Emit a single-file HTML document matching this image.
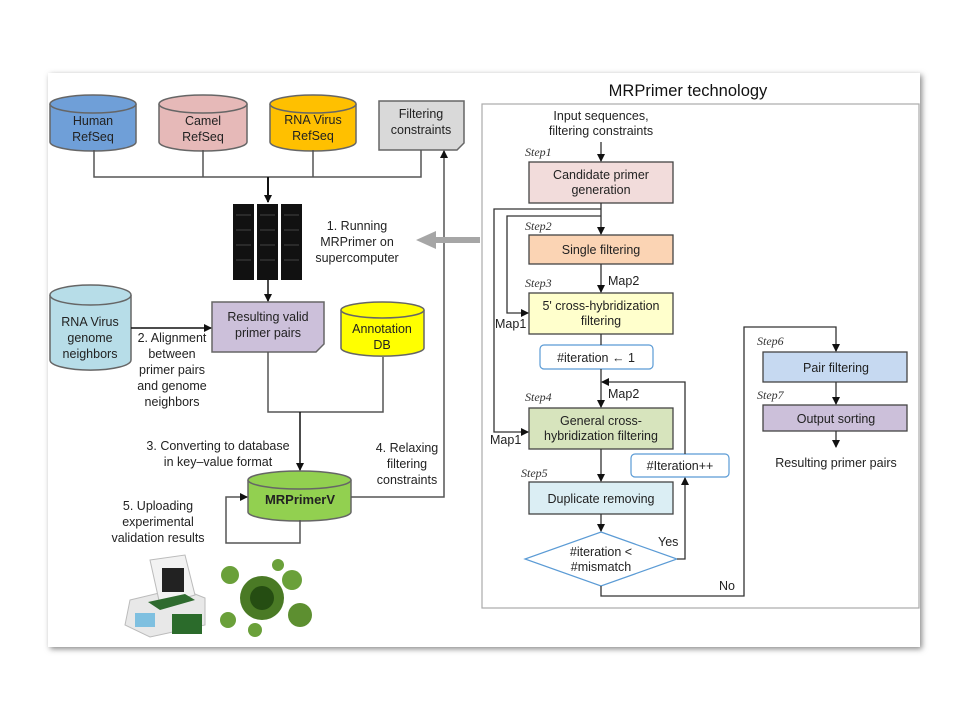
<!DOCTYPE html>
<html><head><meta charset="utf-8"><style>
html,body{margin:0;padding:0;background:#fff}
svg{display:block}
text{font-family:"Liberation Sans",sans-serif;font-size:12.5px;fill:#222}
.st{font-family:"Liberation Serif",serif;font-style:italic;font-size:12px;fill:#333}
</style></head><body>
<svg width="960" height="720" viewBox="0 0 960 720" xmlns="http://www.w3.org/2000/svg">
<defs>
<marker id="a" markerWidth="8" markerHeight="8" refX="7" refY="4" orient="auto" markerUnits="userSpaceOnUse"><path d="M0,0 L8,4 L0,8 z" fill="#111"/></marker>
<filter id="sh" x="-5%" y="-5%" width="110%" height="110%"><feDropShadow dx="2" dy="2" stdDeviation="3" flood-color="#888"/></filter>
</defs>
<rect x="48" y="73" width="872" height="574" fill="#fff" filter="url(#sh)"/>

<!-- left cylinders -->
<g stroke="#666" stroke-width="1.5">
<path d="M50,104 v38 a43,9 0 0 0 86,0 v-38" fill="#6f9fd8"/><ellipse cx="93" cy="104" rx="43" ry="9" fill="#6f9fd8"/>
<path d="M159,104 v38 a44,9 0 0 0 88,0 v-38" fill="#e6b9b8"/><ellipse cx="203" cy="104" rx="44" ry="9" fill="#e6b9b8"/>
<path d="M270,104 v38 a43,9 0 0 0 86,0 v-38" fill="#ffc000"/><ellipse cx="313" cy="104" rx="43" ry="9" fill="#ffc000"/>
<path d="M379,101 h85 v42 l-7,7 h-78 z" fill="#d9d9d9"/>
<path d="M50,295 v65 a40,10 0 0 0 81,0 v-65" fill="#b7dde8"/><ellipse cx="90.5" cy="295" rx="40.5" ry="10" fill="#b7dde8"/>
<path d="M212,302 h112 v42 l-8,8 h-104 z" fill="#ccc0da"/>
<path d="M341,310 v38 a41,8 0 0 0 83,0 v-38" fill="#ffff00"/><ellipse cx="382.5" cy="310" rx="41.5" ry="8" fill="#ffff00"/>
<path d="M248,480 v32 a51.5,9 0 0 0 103,0 v-32" fill="#92d050"/><ellipse cx="299.5" cy="480" rx="51.5" ry="9" fill="#92d050"/>
</g>
<g text-anchor="middle">
<text x="93" y="125">Human</text><text x="93" y="141">RefSeq</text>
<text x="203" y="125">Camel</text><text x="203" y="141">RefSeq</text>
<text x="313" y="124">RNA Virus</text><text x="313" y="140">RefSeq</text>
<text x="421" y="118">Filtering</text><text x="421" y="134">constraints</text>
<text x="90" y="326">RNA Virus</text><text x="90" y="342">genome</text><text x="90" y="358">neighbors</text>
<text x="268" y="321">Resulting valid</text><text x="268" y="337">primer pairs</text>
<text x="382" y="333">Annotation</text><text x="382" y="349">DB</text>
<text x="300" y="504" style="font-weight:bold;font-size:13px">MRPrimerV</text>
<text x="357" y="230">1. Running</text><text x="357" y="246">MRPrimer on</text><text x="357" y="262">supercomputer</text>
<text x="172" y="342">2. Alignment</text><text x="172" y="358">between</text><text x="172" y="374">primer pairs</text><text x="172" y="390">and genome</text><text x="172" y="406">neighbors</text>
<text x="218" y="450">3. Converting to database</text><text x="218" y="466">in key–value  format</text>
<text x="407" y="452">4. Relaxing</text><text x="407" y="468">filtering</text><text x="407" y="484">constraints</text>
<text x="158" y="510">5. Uploading</text><text x="158" y="526">experimental</text><text x="158" y="542">validation  results</text>
</g>
<g stroke="#555" stroke-width="1.5" fill="none">
<path d="M94,150 V177 H421 V150"/><path d="M203,150 V177 M313,150 V177"/>
<path d="M268,177 V202" stroke="#111" stroke-width="2" marker-end="url(#a)"/>
<path d="M268,280 V301" stroke="#111" marker-end="url(#a)"/>
<path d="M131,328 H211" stroke="#111" marker-end="url(#a)"/>
<path d="M268,352 V412 H383 V357"/>
<path d="M300,412 V470" stroke="#111" marker-end="url(#a)"/>
<path d="M351,497 H444 V151" marker-end="url(#a)"/>
<path d="M300,520 V543 H226 V497 H247" marker-end="url(#a)"/>
</g>
<!-- server -->
<g>
<rect x="233" y="204" width="21" height="76" fill="#111"/><rect x="257" y="204" width="21" height="76" fill="#111"/><rect x="281" y="204" width="21" height="76" fill="#111"/>
<g stroke="#444" stroke-width="1"><path d="M236,215 h15 M236,230 h15 M236,245 h15 M236,260 h15 M260,215 h15 M260,230 h15 M260,245 h15 M260,260 h15 M284,215 h15 M284,230 h15 M284,245 h15 M284,260 h15"/></g>
</g>
<!-- grey arrow -->
<path d="M480,237 H436 V231 L416,240 L436,249 V243 H480 z" fill="#a6a6a6"/>
<!-- images -->
<g>
<path d="M130,600 L180,588 L205,598 L205,625 L150,637 L125,625 z" fill="#e8e8e8" stroke="#bbb"/>
<path d="M150,560 L185,555 L195,595 L160,605 z" fill="#f2f2f2" stroke="#bbb"/>
<rect x="162" y="568" width="22" height="24" fill="#222"/>
<path d="M148,602 L185,594 L195,600 L160,610 z" fill="#2f6b2f"/>
<rect x="135" y="613" width="20" height="14" fill="#7fc0e0"/>
<rect x="172" y="614" width="30" height="20" fill="#2b6b2b"/>
<circle cx="262" cy="598" r="22" fill="#4a7a25"/>
<circle cx="262" cy="598" r="12" fill="#254d12"/>
<circle cx="230" cy="575" r="9" fill="#6aa03a"/><circle cx="292" cy="580" r="10" fill="#6aa03a"/>
<circle cx="228" cy="620" r="8" fill="#6aa03a"/><circle cx="300" cy="615" r="12" fill="#5d8f30"/>
<circle cx="255" cy="630" r="7" fill="#6aa03a"/><circle cx="278" cy="565" r="6" fill="#6aa03a"/>
</g>

<!-- right panel -->
<text x="688" y="96" text-anchor="middle" style="font-size:16.5px;fill:#111">MRPrimer technology</text>
<rect x="482" y="104" width="437" height="504" fill="none" stroke="#aaa" stroke-width="1.2"/>
<g stroke="#444" stroke-width="1.3">
<rect x="529" y="162" width="144" height="41" fill="#f2dcdb"/>
<rect x="529" y="235" width="144" height="29" fill="#fbd4b4"/>
<rect x="529" y="293" width="144" height="41" fill="#ffffcc"/>
<rect x="529" y="408" width="144" height="41" fill="#d7e4bd"/>
<rect x="529" y="482" width="144" height="32" fill="#dbeef4"/>
<rect x="763" y="352" width="144" height="30" fill="#c6d9f1"/>
<rect x="763" y="405" width="144" height="26" fill="#ccc0da"/>
</g>
<g stroke="#5b9bd5" stroke-width="1.2" fill="#fff">
<rect x="540" y="345" width="113" height="24" rx="4"/>
<rect x="631" y="454" width="98" height="23" rx="4"/>
<path d="M601,532 L677,559 L601,586 L525,559 z"/>
</g>
<g stroke="#333" stroke-width="1.3" fill="none">
<path d="M601,142 V161" marker-end="url(#a)"/>
<path d="M601,203 V234" marker-end="url(#a)"/>
<path d="M601,209 H494 V432 H528" marker-end="url(#a)"/>
<path d="M601,216 H507 V313 H528" marker-end="url(#a)"/>
<path d="M601,264 V292" marker-end="url(#a)"/>
<path d="M601,334 V345 M601,369 V407" marker-end="url(#a)"/>
<path d="M685,454 V382 H602" marker-end="url(#a)"/>
<path d="M601,449 V481" marker-end="url(#a)"/>
<path d="M601,514 V531" marker-end="url(#a)"/>
<path d="M677,559 H685 V478" marker-end="url(#a)"/>
<path d="M601,586 V596 H744 V327 H836 V351" marker-end="url(#a)"/>
<path d="M836,382 V404" marker-end="url(#a)"/>
<path d="M836,431 V447" marker-end="url(#a)"/>
</g>
<g text-anchor="middle">
<text x="601" y="120">Input sequences,</text><text x="601" y="135">filtering constraints</text>
<text x="601" y="179">Candidate primer</text><text x="601" y="194">generation</text>
<text x="601" y="254">Single filtering</text>
<text x="601" y="310">5' cross-hybridization</text><text x="601" y="325">filtering</text>
<text x="596" y="362">#iteration ← 1</text>
<text x="601" y="425">General cross-</text><text x="601" y="440">hybridization filtering</text>
<text x="680" y="470">#Iteration++</text>
<text x="601" y="503">Duplicate removing</text>
<text x="601" y="556">#iteration &lt;</text><text x="601" y="571">#mismatch</text>
<text x="836" y="372">Pair filtering</text>
<text x="836" y="423">Output sorting</text>
<text x="836" y="467">Resulting primer pairs</text>
</g>
<text x="608" y="285">Map2</text><text x="608" y="398">Map2</text>
<text x="495" y="328">Map1</text><text x="490" y="444">Map1</text>
<text x="658" y="546">Yes</text><text x="719" y="590">No</text>
<text class="st" x="525" y="156">Step1</text>
<text class="st" x="525" y="230">Step2</text>
<text class="st" x="525" y="287">Step3</text>
<text class="st" x="525" y="401">Step4</text>
<text class="st" x="521" y="477">Step5</text>
<text class="st" x="757" y="345">Step6</text>
<text class="st" x="757" y="399">Step7</text>
</svg>
</body></html>
